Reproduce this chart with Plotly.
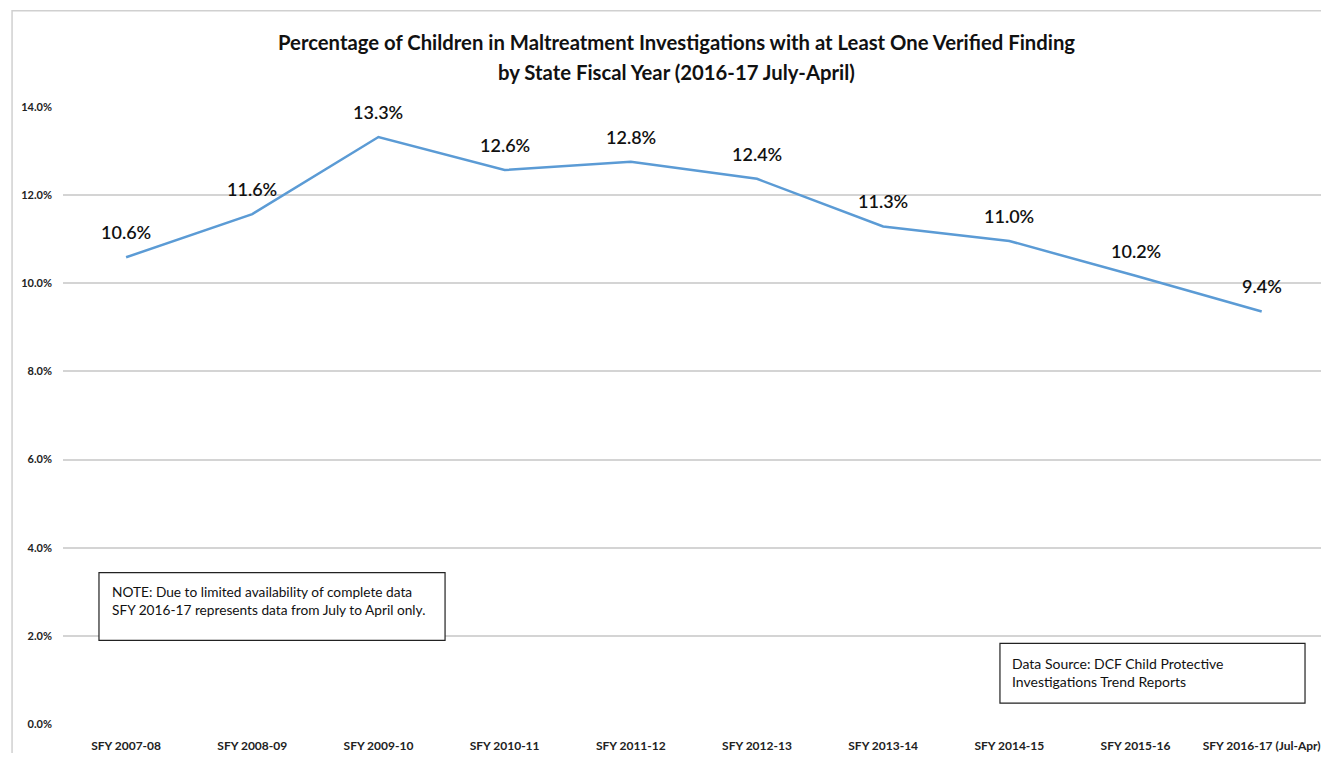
import plotly.graph_objects as go

categories = ["SFY 2007-08", "SFY 2008-09", "SFY 2009-10", "SFY 2010-11", "SFY 2011-12",
              "SFY 2012-13", "SFY 2013-14", "SFY 2014-15", "SFY 2015-16", "SFY 2016-17 (Jul-Apr)"]
values = [10.59, 11.57, 13.32, 12.57, 12.76, 12.37, 11.29, 10.96, 10.17, 9.36]
y_ticks = [0, 2, 4, 6, 8, 10, 12, 14]
y_tick_labels = ["0.0%", "2.0%", "4.0%", "6.0%", "8.0%", "10.0%", "12.0%", "14.0%"]

title_line1 = "Percentage of Children in Maltreatment Investigations with at Least One Verified Finding"
title_line2 = "by State Fiscal Year (2016-17 July-April)"
note_text = ("NOTE: Due to limited availability of complete data<br>"
             "SFY 2016-17 represents data from July to April only.")
source_text = "Data Source: DCF Child Protective<br>Investigations Trend Reports"

FONT = "Lato"

fig = go.Figure()
fig.add_trace(go.Scatter(
    x=categories, y=values, mode="lines",
    line=dict(color="#5B9BD5", width=2.5),
    hoverinfo="skip", showlegend=False,
))

annotations = []
for c, v in zip(categories, values):
    annotations.append(dict(
        x=c, y=v, xref="x", yref="y", text=f"{v:.1f}%", showarrow=False,
        yshift=25, font=dict(family=FONT, size=18, color="#111111", weight=600),
    ))

for txt, ty in ((title_line1, 1.1048), (title_line2, 1.0565)):
    annotations.append(dict(
        x=0.488, y=ty, xref="paper", yref="paper", text=txt, showarrow=False,
        xanchor="center", yanchor="middle", align="center",
        font=dict(family=FONT, size=20.3, color="#111111", weight="bold"),
    ))
annotations.append(dict(
    x=0.0374, y=0.2, xref="paper", yref="paper", text=note_text, showarrow=False,
    xanchor="left", yanchor="middle", align="left",
    font=dict(family=FONT, size=13.7, color="#111111"),
))
annotations.append(dict(
    x=0.7528, y=0.0839, xref="paper", yref="paper", text=source_text, showarrow=False,
    xanchor="left", yanchor="middle", align="left",
    font=dict(family=FONT, size=14, color="#111111"),
))

shapes = [
    dict(type="rect", xref="paper", yref="paper", x0=-0.0405, x1=1.03, y0=-0.2, y1=1.156,
         line=dict(color="#d0d0d0", width=1.5), fillcolor="rgba(0,0,0,0)", layer="below"),
    dict(type="rect", xref="paper", yref="paper", x0=0.0286, x1=0.3037, y0=0.1355, y1=0.2452,
         line=dict(color="#222222", width=1.2), fillcolor="white"),
    dict(type="rect", xref="paper", yref="paper", x0=0.7448, x1=0.9873, y0=0.0339, y1=0.1306,
         line=dict(color="#222222", width=1.2), fillcolor="white"),
]

fig.update_layout(
    width=1313, height=745,
    margin=dict(l=55, r=0, t=99, b=26),
    paper_bgcolor="white", plot_bgcolor="white",
    annotations=annotations, shapes=shapes,
    showlegend=False,
)
fig.update_xaxes(
    type="category", range=[-0.5, len(categories) - 0.53],
    showgrid=False, showline=False, zeroline=False, ticks="",
    tickfont=dict(family=FONT, size=12, color="#222222", weight="bold"),
    ticklabelstandoff=13,
)
fig.update_yaxes(
    range=[0, 14], tickvals=y_ticks, ticktext=y_tick_labels,
    showgrid=True, gridcolor="#d4d4d4", gridwidth=1.5, zeroline=False, showline=False,
    tickfont=dict(family=FONT, size=11, color="#222222", weight="bold"),
    ticks="", ticklabelstandoff=10,
)

fig.write_html("out.html")
